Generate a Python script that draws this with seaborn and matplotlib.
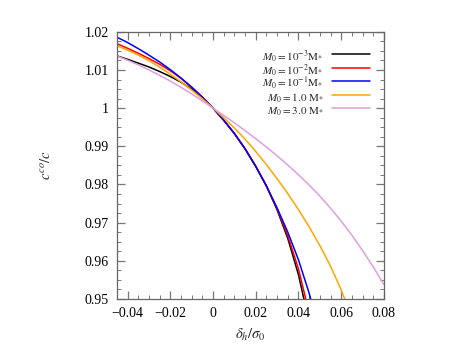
import matplotlib
matplotlib.use("Agg")
from matplotlib import pyplot as plt
from matplotlib.ticker import MultipleLocator, FuncFormatter
import pandas as pd
import seaborn as sns

# values (x = delta_h / sigma_0)
x_grid = [-0.045, -0.04, -0.035, -0.03, -0.025, -0.02, -0.015, -0.01, -0.005, 0.0,
          0.005, 0.01, 0.015, 0.02, 0.025, 0.03, 0.035, 0.04, 0.045]

y_m3 = [1.0137, 1.0128, 1.0118, 1.0108, 1.0096, 1.0083, 1.0068, 1.0050, 1.0028, 1.0,
        0.99685, 0.99335, 0.98935, 0.98475, 0.9796, 0.97335, 0.96585, 0.95635, 0.94385]

y_m2 = [1.0169, 1.0157, 1.0144, 1.0130, 1.0115, 1.0098, 1.0078, 1.0055, 1.0029, 1.0,
        0.99685, 0.99335, 0.98935, 0.98475, 0.9796, 0.9736, 0.9666, 0.95785, 0.94635]

x_m1 = x_grid + [0.05]
y_m1 = [1.0186, 1.0172, 1.0156, 1.0139, 1.0121, 1.0101, 1.0079, 1.0055, 1.0029, 1.0,
        0.99685, 0.99335, 0.98935, 0.98475, 0.9796, 0.97385, 0.9675, 0.96025, 0.9515, 0.941]

x_1 = x_grid + [0.05, 0.055, 0.06, 0.065]
y_1 = [1.01635, 1.0152, 1.0139, 1.01245, 1.01075, 1.0089, 1.0069, 1.00475, 1.00245, 1.0,
       0.9975, 0.9948, 0.99185, 0.98865, 0.9852, 0.9815, 0.9776, 0.9734, 0.9689,
       0.964, 0.9586, 0.95235, 0.9451]

x_3 = x_grid + [0.05, 0.055, 0.06, 0.065, 0.07, 0.075, 0.08]
y_3 = [1.01368, 1.01256, 1.01134, 1.01002, 1.0086, 1.00708, 1.00546, 1.00374, 1.00192, 1.0,
       0.9981, 0.99615, 0.9941, 0.9920, 0.9898, 0.9875, 0.9851, 0.98255, 0.97985,
       0.97695, 0.9738, 0.9704, 0.9667, 0.9627, 0.9584, 0.95375]

labels = [r"$M_0 = 10^{-3}\mathrm{M}_{*}$", r"$M_0 = 10^{-2}\mathrm{M}_{*}$",
          r"$M_0 = 10^{-1}\mathrm{M}_{*}$", r"$M_0 = 1.0\ \mathrm{M}_{*}$",
          r"$M_0 = 3.0\ \mathrm{M}_{*}$"]
colors = ["black", "red", "blue", "orange", "plum"]

xs = [x_grid, x_grid, x_m1, x_1, x_3]
ys = [y_m3, y_m2, y_m1, y_1, y_3]
frames = []
for lab, xv, yv in zip(labels, xs, ys):
    frames.append(pd.DataFrame({"x": xv, "y": yv, "M0": lab}))
df = pd.concat(frames, ignore_index=True)

sns.set_style("ticks")
plt.rcParams["font.family"] = ["Liberation Serif", "DejaVu Serif"]
plt.rcParams["mathtext.fontset"] = "stix"

fig = plt.figure(figsize=(4.62, 3.46), dpi=100)
ax = fig.add_axes([0.253, 0.136, 0.578, 0.772])
sns.lineplot(data=df, x="x", y="y", hue="M0", palette=colors, sort=False,
             estimator=None, linewidth=1.1, ax=ax)

ax.set_xlim(-0.045, 0.08)
ax.set_ylim(0.95, 1.02)
ax.xaxis.set_major_locator(MultipleLocator(0.02))
ax.xaxis.set_minor_locator(MultipleLocator(0.005))
ax.yaxis.set_major_locator(MultipleLocator(0.01))
ax.yaxis.set_minor_locator(MultipleLocator(0.0025))
fmt = FuncFormatter(lambda v, p: ("%g" % round(v, 4)).replace("-", "\u2212"))
ax.xaxis.set_major_formatter(fmt)
ax.yaxis.set_major_formatter(fmt)
ax.tick_params(which="both", direction="in", top=True, right=True,
               color="#777777", labelsize=10, labelcolor="black")
ax.tick_params(which="major", length=6, width=0.9, pad=6)
ax.tick_params(which="minor", length=3, width=0.7)
for s in ax.spines.values():
    s.set_color("#666666")
    s.set_linewidth(0.9)

ax.set_xlabel(r"$\delta_h/\sigma_0$", fontsize=10.5, labelpad=5)
ax.set_ylabel(r"$c^{co}/c$", fontsize=10.5, labelpad=22)

# legend: labels on the left, line samples on the right, even row spacing
ax.legend(loc="upper right", bbox_to_anchor=(1.005, 1.0), frameon=False,
          markerfirst=False, fontsize=8.0, handlelength=3.36, handleheight=2.4,
          labelspacing=-0.59, borderaxespad=1.0, title=None)

fig.savefig("out.png", dpi=100)
